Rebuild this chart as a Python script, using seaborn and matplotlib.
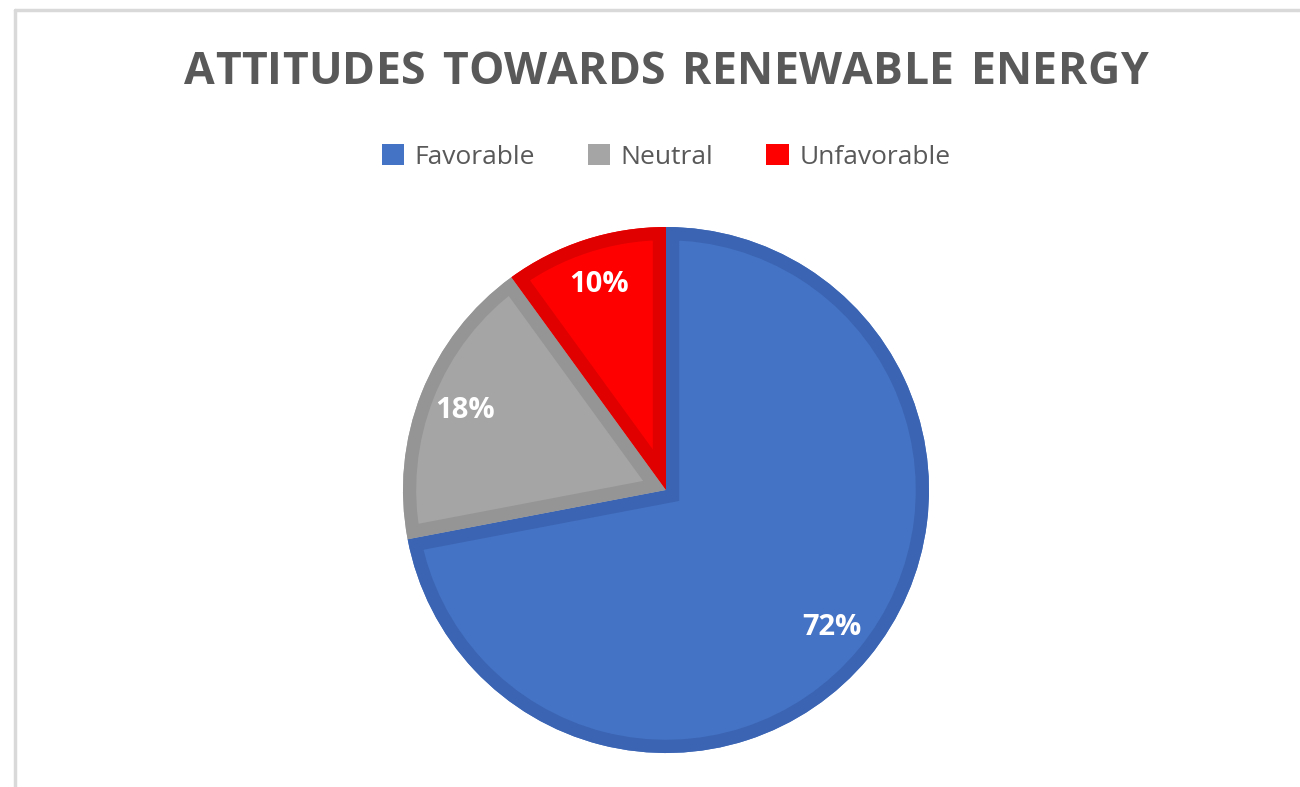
import matplotlib
matplotlib.use("Agg")
import matplotlib.pyplot as plt
from matplotlib.lines import Line2D
from matplotlib.patches import Patch, Wedge
import seaborn as sns

# Survey results
categories = ["Favorable", "Neutral", "Unfavorable"]
shares = [72, 18, 10]
fill_colors = ["#4472C4", "#A5A5A5", "#FF0000"]
edge_colors = ["#3B64B2", "#959595", "#E10000"]
title = "ATTITUDES TOWARDS RENEWABLE ENERGY"

sns.set_theme(style="white")
plt.rcParams["font.family"] = ["Open Sans", "DejaVu Sans"]

W, H = 1300, 787
fig = plt.figure(figsize=(W / 100, H / 100), dpi=100)
fig.patch.set_facecolor("white")
renderer = fig.canvas.get_renderer()

# Chart frame (left and top edges)
frame = "#D9D9D9"
fig.add_artist(Line2D([15 / W, 15 / W], [0, 1 - 10 / H], color=frame, lw=2.5,
                      transform=fig.transFigure))
fig.add_artist(Line2D([15 / W, 1], [1 - 10 / H, 1 - 10 / H], color=frame, lw=2.5,
                      transform=fig.transFigure))

# Pie axes: centre (666, 490) px, radius 263 px
cx, cy, r = 666, 490, 263
half = 290
ax = fig.add_axes([(cx - half) / W, (H - cy - half) / H, 2 * half / W, 2 * half / H])
lim = half / r

wedges, texts, autotexts = ax.pie(
    shares, colors=fill_colors, startangle=90, counterclock=False,
    autopct=lambda p: f"{p:.0f}%", pctdistance=0.82, radius=1,
    wedgeprops=dict(linewidth=0),
    textprops=dict(color="white", fontsize=21, fontweight="bold"),
)
ax.set_xlim(-lim, lim)
ax.set_ylim(-lim, lim)
ax.set_aspect("equal")
ax.axis("off")

# Inner darker border on every wedge (stroke clipped to the wedge itself)
for w, ec in zip(wedges, edge_colors):
    border = Wedge(w.center, w.r, w.theta1, w.theta2, facecolor="none",
                   edgecolor=ec, linewidth=19, joinstyle="miter")
    ax.add_patch(border)
    border.set_clip_path(w)

for t in autotexts:
    t.set_zorder(5)

# Title with extra letter spacing, laid out one glyph at a time
title_kw = dict(fontsize=32, fontweight="bold", color="#595959", va="center")
spacing = 0.3  # px between glyphs
widths = []
for ch in title:
    t = fig.text(0, 0, ch if ch != " " else "n", **title_kw)
    widths.append(t.get_window_extent(renderer).width * (0.55 if ch == " " else 1.0))
    t.remove()
total = sum(widths) + spacing * (len(title) - 1)
x = cx - total / 2
for ch, wd in zip(title, widths):
    if ch != " ":
        fig.text(x / W, 1 - 72 / H, ch, ha="left", **title_kw)
    x += wd + spacing

handles = [Patch(facecolor=c, edgecolor="none") for c in fill_colors]
fig.legend(handles, categories, loc="center", bbox_to_anchor=(cx / W, 1 - 157 / H),
           ncol=3, frameon=False, fontsize=19, handlelength=0.85, handleheight=0.85,
           handletextpad=0.4, columnspacing=2.0, labelcolor="#595959")

fig.savefig("out.png", dpi=100, facecolor="white")
